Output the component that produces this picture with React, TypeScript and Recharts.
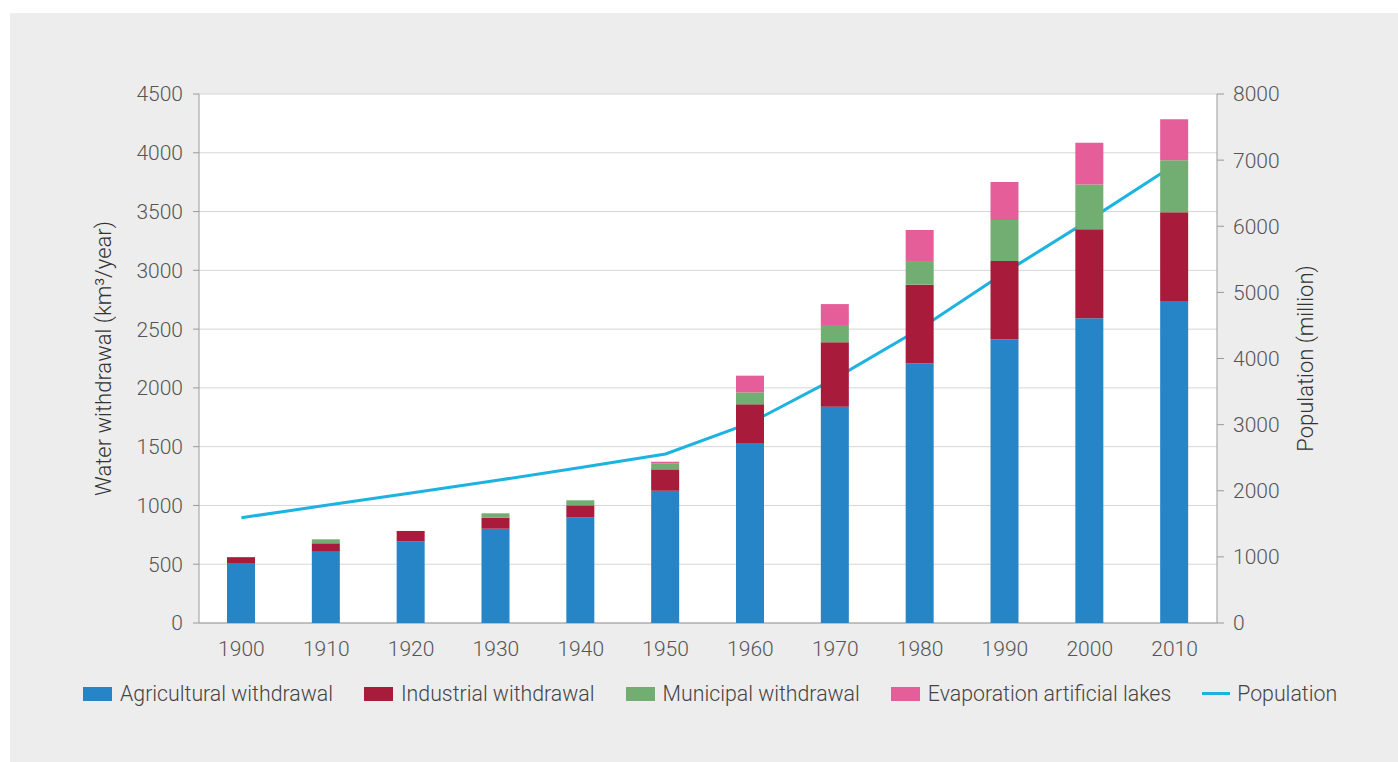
import React from 'react';
import {
  ComposedChart,
  Bar,
  Line,
  XAxis,
  YAxis,
  CartesianGrid,
  Label,
} from 'recharts';

const years = ['1900', '1910', '1920', '1930', '1940', '1950', '1960', '1970', '1980', '1990', '2000', '2010'];
const agricultural = [510, 612, 695, 802, 899, 1125, 1531, 1840, 2209, 2413, 2592, 2739];
const industrial = [50, 66, 88, 94, 102, 182, 329, 548, 669, 666, 757, 755];
const municipal = [0, 34, 0, 37, 43, 52, 102, 147, 201, 349, 382, 442];
const evaporation = [0, 0, 0, 0, 0, 13, 142, 178, 264, 323, 354, 349];
const population = [1592, 1780, 1965, 2155, 2350, 2556, 3025, 3700, 4450, 5300, 6100, 6930];

const leftTicks = [0, 500, 1000, 1500, 2000, 2500, 3000, 3500, 4000, 4500];
const rightTicks = [0, 1000, 2000, 3000, 4000, 5000, 6000, 7000, 8000];

const COLORS = {
  agri: '#2585c7',
  ind: '#a81b3b',
  mun: '#72ae72',
  evap: '#e65e99',
  pop: '#1db3e0',
};

const data = years.map((year, i) => ({
  year,
  agri: agricultural[i],
  ind: industrial[i],
  mun: municipal[i],
  evap: evaporation[i],
  pop: population[i],
}));

const W = 1398;
const H = 762;
const FONT = 'Roboto, "Noto Sans", sans-serif';
const tickStyle = { fill: '#555', fontSize: 21, fontFamily: FONT, fontWeight: 300 };
const titleStyle = { textAnchor: 'middle', fill: '#333', fontSize: 22, fontFamily: FONT, fontWeight: 300 } as any;

const series = [
  { key: 'agri', name: 'Agricultural withdrawal', color: COLORS.agri },
  { key: 'ind', name: 'Industrial withdrawal', color: COLORS.ind },
  { key: 'mun', name: 'Municipal withdrawal', color: COLORS.mun },
  { key: 'evap', name: 'Evaporation artificial lakes', color: COLORS.evap },
];

const legendItems = [
  ...series.map((s) => ({ name: s.name, color: s.color, type: 'rect' })),
  { name: 'Population', color: COLORS.pop, type: 'line' },
];

const ChartLegend = () => (
  <div
    style={{
      position: 'absolute',
      left: 83,
      top: 681,
      display: 'flex',
      alignItems: 'center',
      gap: 31,
      fontFamily: FONT,
      fontWeight: 300,
      fontSize: 21.3,
      color: '#444',
      whiteSpace: 'nowrap',
    }}
  >
    {legendItems.map((item) => (
      <div key={item.name} style={{ display: 'flex', alignItems: 'center' }}>
        {item.type === 'rect' ? (
          <span style={{ width: 29, height: 14, background: item.color, marginRight: 8 }} />
        ) : (
          <span style={{ width: 28, height: 3, background: item.color, marginRight: 7 }} />
        )}
        <span>{item.name}</span>
      </div>
    ))}
  </div>
);

// plot area: x 199..1217, y 94..623
export default function App() {
  return (
    <div style={{ position: 'absolute', left: 0, top: 0, width: W, height: H, background: '#fff' }}>
      <div style={{ position: 'absolute', left: 10, top: 13, width: W - 10, height: H - 13, background: '#ededed' }} />

      {/* base layer: grid, axes, invisible bars (for the band scale) and the population line */}
      <div style={{ position: 'absolute', left: 0, top: 0 }}>
        <ComposedChart width={W} height={H} data={data} margin={{ top: 94, right: 81, bottom: 109, left: 99 }}>
          <CartesianGrid yAxisId="left" vertical={false} stroke="#d6d6d6" fill="#fff" />
          <XAxis
            dataKey="year"
            height={30}
            tickLine={false}
            axisLine={{ stroke: '#9a9a9a' }}
            tick={tickStyle}
            tickSize={6}
            tickMargin={12}
          />
          <YAxis
            yAxisId="left"
            width={100}
            domain={[0, 4500]}
            ticks={leftTicks}
            interval={0}
            tick={tickStyle}
            tickSize={6}
            tickMargin={10}
            stroke="#9a9a9a"
          >
            <Label value="Water withdrawal (km³/year)" angle={-90} position="insideLeft" offset={4} style={titleStyle} />
          </YAxis>
          <YAxis
            yAxisId="right"
            orientation="right"
            width={100}
            domain={[0, 8000]}
            ticks={rightTicks}
            interval={0}
            tick={tickStyle}
            tickSize={7}
            tickMargin={9}
            stroke="#9a9a9a"
          >
            <Label value="Population (million)" angle={-90} position="insideRight" offset={12} style={titleStyle} />
          </YAxis>
          {series.map((s) => (
            <Bar
              key={s.key}
              yAxisId="left"
              dataKey={s.key}
              stackId="w"
              fill="transparent"
              barSize={28}
              isAnimationActive={false}
            />
          ))}
          <Line
            yAxisId="right"
            dataKey="pop"
            type="linear"
            stroke={COLORS.pop}
            strokeWidth={3}
            dot={false}
            activeDot={false}
            isAnimationActive={false}
          />
        </ComposedChart>
      </div>

      {/* top layer: stacked withdrawal bars, drawn over the line */}
      <div style={{ position: 'absolute', left: 0, top: 0 }}>
        <ComposedChart width={W} height={H} data={data} margin={{ top: 94, right: 81, bottom: 109, left: 99 }}>
          <XAxis dataKey="year" height={30} tick={false} tickLine={false} axisLine={false} />
          <YAxis yAxisId="left" width={100} domain={[0, 4500]} ticks={leftTicks} tick={false} tickLine={false} axisLine={false} />
          <YAxis yAxisId="right" orientation="right" width={100} domain={[0, 8000]} tick={false} tickLine={false} axisLine={false} />
          {series.map((s) => (
            <Bar
              key={s.key}
              yAxisId="left"
              dataKey={s.key}
              stackId="w"
              fill={s.color}
              barSize={28}
              isAnimationActive={false}
            />
          ))}
          <Line yAxisId="right" dataKey="pop" stroke="none" dot={false} activeDot={false} isAnimationActive={false} />
        </ComposedChart>
      </div>

      <ChartLegend />
    </div>
  );
}
